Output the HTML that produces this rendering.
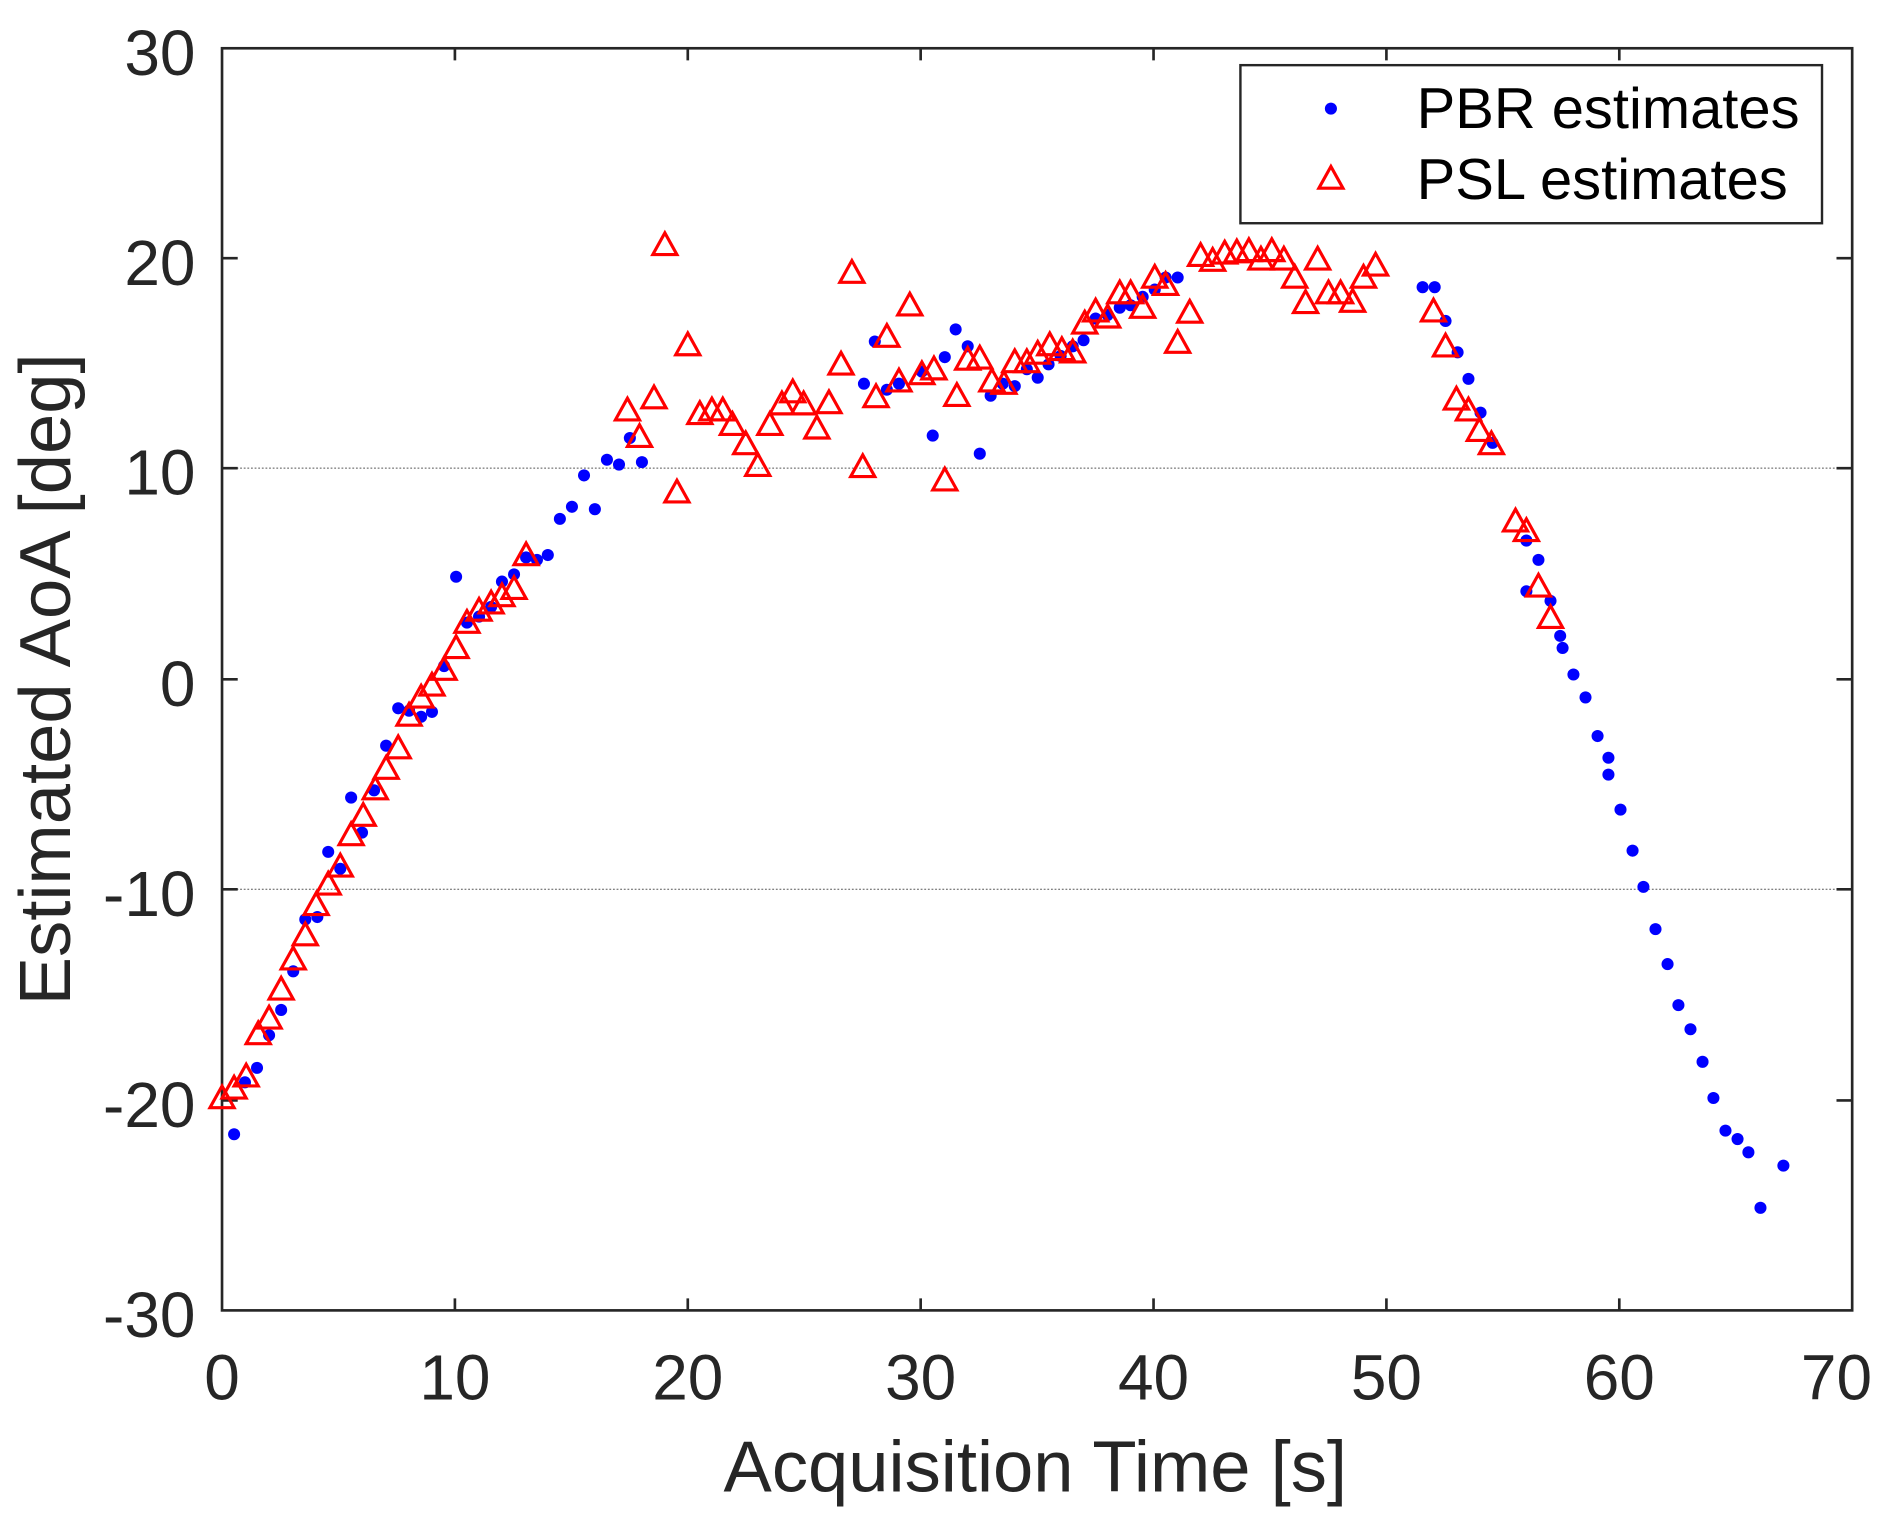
<!DOCTYPE html>
<html><head><meta charset="utf-8"><style>html,body{margin:0;padding:0;background:#fff}svg{display:block}</style></head>
<body>
<svg xmlns="http://www.w3.org/2000/svg" width="1892" height="1525" viewBox="0 0 1568 1263.86">
<rect x="0" y="0" width="1568" height="1264" fill="#fff"/>
<g stroke="#555" stroke-width="0.8" stroke-dasharray="1.5,1.5">
<line x1="184" y1="388" x2="1535" y2="388"/>
<line x1="184" y1="737" x2="1535" y2="737"/>
</g>
<g stroke="#262626" stroke-width="2.2" fill="none">
<rect x="184" y="40" width="1351" height="1046"/>
<path d="M377 40v10M570 40v10M763 40v10M956 40v10M1149 40v10M1342 40v10M377 1086v-10M570 1086v-10M763 1086v-10M956 1086v-10M1149 1086v-10M1342 1086v-10M184 214h13M184 388h13M184 563h13M184 737h13M184 912h13M1535 214h-13M1535 388h-13M1535 563h-13M1535 737h-13M1535 912h-13"/>
</g>
<g font-family="Liberation Sans, Arial, sans-serif" font-size="53" fill="#262626" text-anchor="end">
<text x="162" y="62">30</text><text x="162" y="236">20</text><text x="162" y="410">10</text><text x="162" y="585">0</text><text x="162" y="759">-10</text><text x="162" y="934">-20</text><text x="162" y="1108">-30</text>
</g>
<g font-family="Liberation Sans, Arial, sans-serif" font-size="53" fill="#262626" text-anchor="middle">
<text x="184" y="1160">0</text><text x="377" y="1160">10</text><text x="570" y="1160">20</text><text x="763" y="1160">30</text><text x="956" y="1160">40</text><text x="1149" y="1160">50</text><text x="1342" y="1160">60</text><text x="1522" y="1160">70</text>
<text x="858" y="1236" font-size="60">Acquisition Time [s]</text>
<text transform="translate(58,563) rotate(-90)" font-size="60">Estimated AoA [deg]</text>
</g>
<g fill="#0000ff" id="pbr"></g>
<g fill="none" stroke="#ff0000" stroke-width="2.6" id="psl"></g>
<rect x="1028" y="54" width="482" height="131" fill="#fff" stroke="#262626" stroke-width="2"/>
<circle cx="1103" cy="90" r="5" fill="#0000ff"/>
<polygon points="1103,138 1093,156 1113,156" fill="none" stroke="#ff0000" stroke-width="2.6"/>
<g font-family="Liberation Sans, Arial, sans-serif" font-size="48" fill="#000">
<text x="1174" y="106">PBR estimates</text>
<text x="1174" y="165">PSL estimates</text>
</g>
<script>
var b=[[194,940],[203,897],[213,885],[223,858],[233,837],[243,805],[253,762],[263,760],[272,706],[282,720],[291,661],[300,690],[310,655],[320,618],[330,587],[339,589],[349,594],[358,590],[368,552],[378,478],[387,516],[397,511],[407,503],[416,482],[426,476],[436,462],[445,464],[454,460],[464,430],[474,420],[484,394],[493,422],[503,381],[513,385],[522,363],[532,383],[716,318],[725,283],[735,323],[745,318],[764,308],[773,361],[783,296],[792,273],[802,287],[812,376],[821,328],[831,318],[841,320],[851,306],[860,313],[869,302],[879,295],[889,287],[898,282],[908,264],[918,261],[928,255],[937,253],[947,246],[957,240],[966,230],[976,230],[1179,238],[1189,238],[1198,266],[1208,292],[1217,314],[1227,342],[1237,367],[1265,448],[1265,490],[1275,464],[1285,498],[1293,527],[1295,537],[1304,559],[1314,578],[1324,610],[1333,628],[1333,642],[1343,671],[1353,705],[1362,735],[1372,770],[1382,799],[1391,833],[1401,853],[1411,880],[1420,910],[1430,937],[1440,944],[1449,955],[1459,1001],[1478,966]];
var r=[[184,910],[194,902],[204,892],[214,857],[223,844],[233,820],[243,795],[253,775],[262,750],[272,733],[282,718],[291,692],[301,676],[311,654],[320,637],[330,620],[339,593],[349,578],[358,568],[368,555],[378,537],[387,516],[397,506],[407,500],[416,494],[426,488],[436,460],[520,340],[530,362],[542,330],[561,408],[570,286],[580,343],[590,340],[599,340],[607,352],[618,368],[628,386],[638,352],[648,335],[657,325],[666,335],[677,355],[687,334],[697,302],[706,226],[715,387],[726,329],[735,279],[745,316],[754,253],[764,310],[774,306],[783,398],[793,328],[802,298],[812,297],[822,316],[832,318],[841,300],[851,300],[860,293],[870,286],[880,290],[889,292],[899,268],[908,258],[918,263],[928,243],[937,243],[947,255],[957,230],[966,236],[976,284],[986,259],[995,212],[1005,216],[1015,210],[1025,209],[1035,208],[1045,215],[1054,208],[1064,215],[1073,230],[1082,251],[1092,215],[1101,243],[1111,243],[1121,250],[1130,230],[1140,220],[1188,258],[1198,287],[1207,331],[1217,340],[1226,357],[1236,368],[551,203],[1256,432],[1265,440],[1275,486],[1285,512]];
var ns="http://www.w3.org/2000/svg",gb=document.getElementById("pbr"),gr=document.getElementById("psl");
b.forEach(function(p){var c=document.createElementNS(ns,"circle");c.setAttribute("cx",p[0]);c.setAttribute("cy",p[1]);c.setAttribute("r",5);gb.appendChild(c);});
r.forEach(function(p){var c=document.createElementNS(ns,"polygon");var x=p[0],y=p[1];c.setAttribute("points",x+","+(y-10)+" "+(x-10)+","+(y+8)+" "+(x+10)+","+(y+8));gr.appendChild(c);});
</script>
</svg>
</body></html>
